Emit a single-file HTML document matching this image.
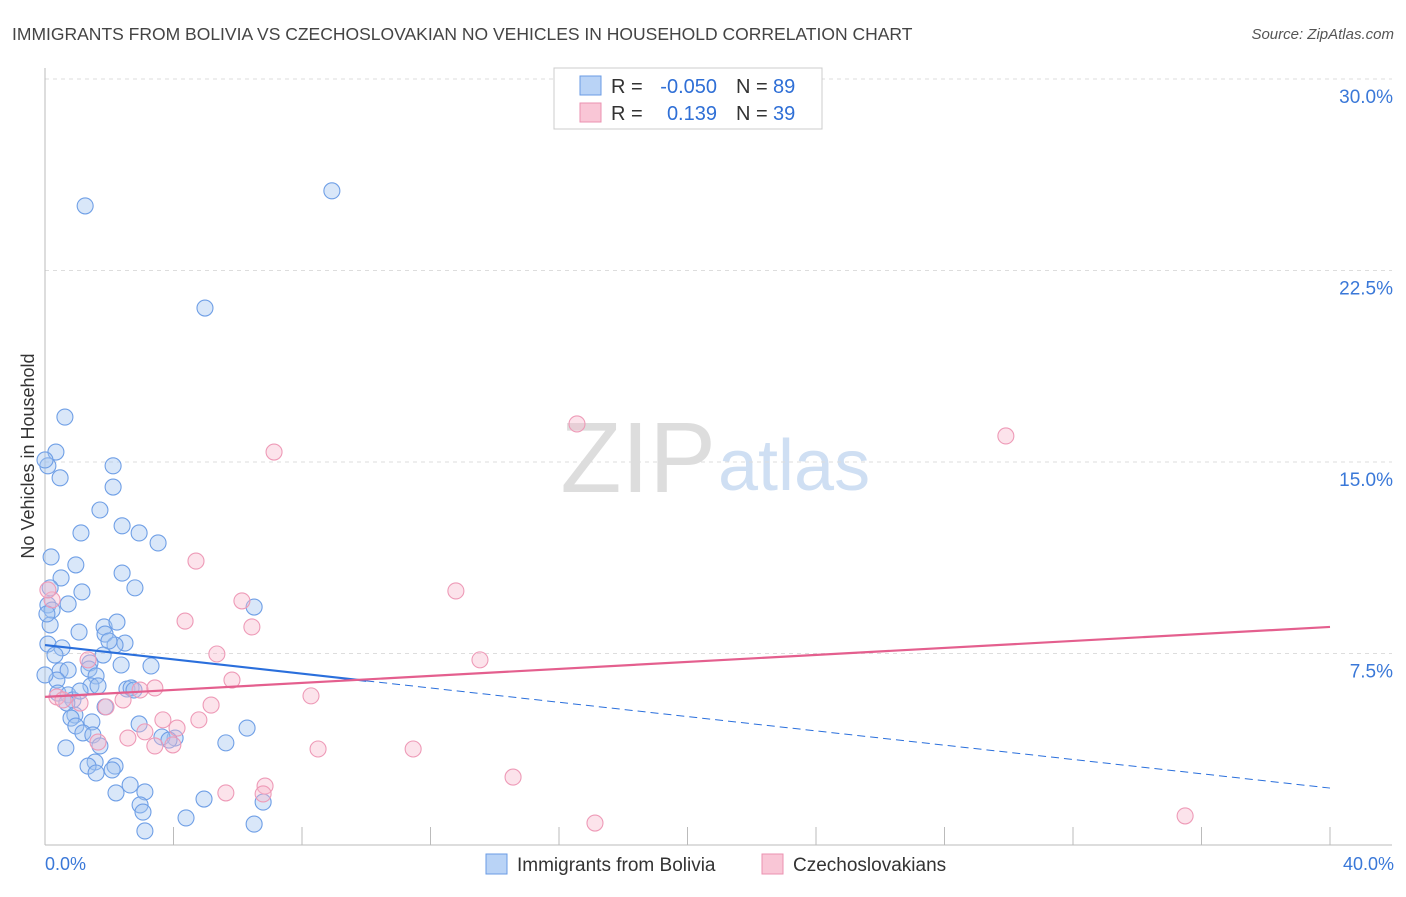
<!DOCTYPE html>
<html><head><meta charset="utf-8"><style>
body{margin:0;background:#fff;font-family:"Liberation Sans",sans-serif}
svg text{font-family:"Liberation Sans",sans-serif}
</style></head><body>
<svg id="chart" width="1406" height="892" xmlns="http://www.w3.org/2000/svg">
<text x="12" y="40" font-size="17.5" fill="#444">IMMIGRANTS FROM BOLIVIA VS CZECHOSLOVAKIAN NO VEHICLES IN HOUSEHOLD CORRELATION CHART</text>
<text x="1394" y="39" font-size="15" fill="#555" font-style="italic" text-anchor="end">Source: ZipAtlas.com</text>
<text x="716" y="492" font-size="100" text-anchor="end" fill="#ddd" font-family="Liberation Serif">ZIP</text>
<text x="718" y="490" font-size="72" fill="#cfdff3">atlas</text>
<text transform="translate(34,456) rotate(-90)" font-size="18" fill="#333" text-anchor="middle">No Vehicles in Household</text>
<g id="grid"></g><g id="ticks"></g><g id="pts"></g><g id="lines"></g>
<g>
<rect x="554" y="68" width="268" height="61" fill="#fff" stroke="#ccc"/>
<rect x="580" y="76" width="21" height="19" fill="#b9d3f6" stroke="#6a9be4"/>
<rect x="580" y="103" width="21" height="19" fill="#f9c6d6" stroke="#eb92b0"/>
<text x="611" y="93" font-size="20" fill="#333">R =</text>
<text x="717" y="93" font-size="20" fill="#2f6fd6" text-anchor="end">-0.050</text>
<text x="736" y="93" font-size="20" fill="#333">N =</text>
<text x="773" y="93" font-size="20" fill="#2f6fd6">89</text>
<text x="611" y="120" font-size="20" fill="#333">R =</text>
<text x="717" y="120" font-size="20" fill="#2f6fd6" text-anchor="end">0.139</text>
<text x="736" y="120" font-size="20" fill="#333">N =</text>
<text x="773" y="120" font-size="20" fill="#2f6fd6">39</text>
</g>
<g>
<rect x="486" y="854" width="21" height="20" fill="#b9d3f6" stroke="#6a9be4"/>
<text x="517" y="871" font-size="19" fill="#333">Immigrants from Bolivia</text>
<rect x="762" y="854" width="21" height="20" fill="#f9c6d6" stroke="#eb92b0"/>
<text x="793" y="871" font-size="19" fill="#333">Czechoslovakians</text>
</g>
</svg>
<script>
const yTicks=[7.5,15,22.5,30];
const yTickLabels=["7.5%","15.0%","22.5%","30.0%"];
const xTickLabels=["0.0%","40.0%"];
const blueX=[1.25,8.93,4.98,0.62,0.34,0.09,0.47,2.12,2.12,1.71,2.40,1.12,2.93,3.52,0.19,0.96,0.50,2.40,0.16,2.80,1.15,0.09,0.72,6.51,0.16,1.84,1.06,1.87,0.09,0.53,2.49,2.18,1.99,0.31,1.81,1.40,2.37,3.30,0.47,0.72,1.37,0.37,1.59,1.43,2.55,2.68,0.40,0.72,0.87,0.68,1.87,0.93,0.81,1.46,0.96,2.93,6.29,1.18,1.49,4.05,3.64,0.65,1.71,5.63,1.56,1.34,2.18,1.59,2.09,2.65,2.21,3.11,2.96,3.05,4.95,6.79,4.39,6.51,3.11,0.22,0.0,0.0,0.06,2.24,1.09,1.65,2.77,3.86];
const blueY=[25.03,25.62,21.03,16.76,15.39,14.85,14.38,14.85,14.02,13.12,12.50,12.22,12.22,11.83,11.28,10.97,10.46,10.65,10.07,10.07,9.91,9.40,9.44,9.32,8.62,8.54,8.34,8.26,7.87,7.72,7.91,7.83,7.99,7.44,7.44,7.13,7.05,7.01,6.82,6.85,6.89,6.46,6.62,6.23,6.11,6.15,5.95,5.88,5.68,5.56,5.41,5.09,4.97,4.82,4.66,4.74,4.58,4.39,4.31,4.19,4.23,3.80,3.88,4.00,3.25,3.09,3.09,2.82,2.94,2.35,2.04,2.08,1.57,1.29,1.80,1.68,1.06,0.82,0.55,9.20,6.66,15.08,9.05,8.73,6.03,6.23,6.07,4.11];
const pinkX=[16.56,29.91,7.13,4.70,12.79,6.13,4.36,6.44,5.35,13.54,5.82,1.34,2.96,3.42,8.28,0.37,0.56,1.09,1.90,2.43,5.17,4.79,3.67,4.11,2.58,3.11,3.42,3.98,1.65,8.50,11.46,14.57,6.85,6.79,5.63,17.12,35.49,0.22,0.09];
const pinkY=[16.49,16.02,15.39,11.12,9.95,9.56,8.77,8.54,7.48,7.25,6.46,7.25,6.07,6.15,5.84,5.80,5.68,5.56,5.41,5.68,5.48,4.90,4.90,4.58,4.19,4.43,3.88,3.92,4.03,3.76,3.76,2.66,2.31,2.00,2.04,0.86,1.14,9.60,9.99];
const blueTrend=[7.83,2.23]; const blueSolidEnd=10;
const pinkTrend=[5.8,8.54];
const X=v=>45+v*(1285/40), Y=v=>845-v*(766/30);
const NS='http://www.w3.org/2000/svg';
function mk(t,a,p){const e=document.createElementNS(NS,t);for(const k in a)e.setAttribute(k,a[k]);document.getElementById(p).appendChild(e);return e;}
yTicks.forEach((t,i)=>{
 const g=mk('line',{x1:45,x2:1392,y1:Y(t),y2:Y(t),stroke:'#ddd','stroke-dasharray':'4,4'},'grid');
 
 
 const l=mk('text',{x:1393,y:Y(t)+24,'font-size':19,fill:'#3a78d8','text-anchor':'end'},'ticks');l.textContent=yTickLabels[i];
 
 
});
mk('line',{x1:45,x2:45,y1:68,y2:845,stroke:'#bbb'},'grid');
mk('line',{x1:45,x2:1392,y1:845,y2:845,stroke:'#bbb'},'grid');
for(let i=1;i<=10;i++){mk('line',{x1:X(i*4),x2:X(i*4),y1:827,y2:845,stroke:'#bbb'},'grid');}
[[0,'start',45],[40,'end',1394]].forEach((d,i)=>{const t=mk('text',{x:d[2],y:870,'font-size':18,fill:'#3a78d8','text-anchor':d[1]},'ticks');t.textContent=xTickLabels[i];
 
 });
blueX.forEach((x,i)=>{const c=mk('circle',{cx:X(x),cy:Y(blueY[i]),r:8,fill:'rgba(160,196,240,0.4)',stroke:'#6f9fe6','stroke-width':1.1},'pts');
 
 });
pinkX.forEach((x,i)=>{const c=mk('circle',{cx:X(x),cy:Y(pinkY[i]),r:8,fill:'rgba(248,186,205,0.4)',stroke:'#ee9ab7','stroke-width':1.1},'pts');
 
 });
const by=v=>blueTrend[0]+(blueTrend[1]-blueTrend[0])*v/40;
const b1=mk('line',{x1:X(0),y1:Y(by(0)),x2:X(blueSolidEnd),y2:Y(by(blueSolidEnd)),stroke:'#2a6fdc','stroke-width':2.2},'lines');


const b2=mk('line',{x1:X(blueSolidEnd),y1:Y(by(blueSolidEnd)),x2:X(40),y2:Y(by(40)),stroke:'#2a6fdc','stroke-width':1,'stroke-dasharray':'8,5'},'lines');


const p1=mk('line',{x1:X(0),y1:Y(pinkTrend[0]),x2:X(40),y2:Y(pinkTrend[1]),stroke:'#e45f8e','stroke-width':2.2},'lines');


</script>
</body></html>
